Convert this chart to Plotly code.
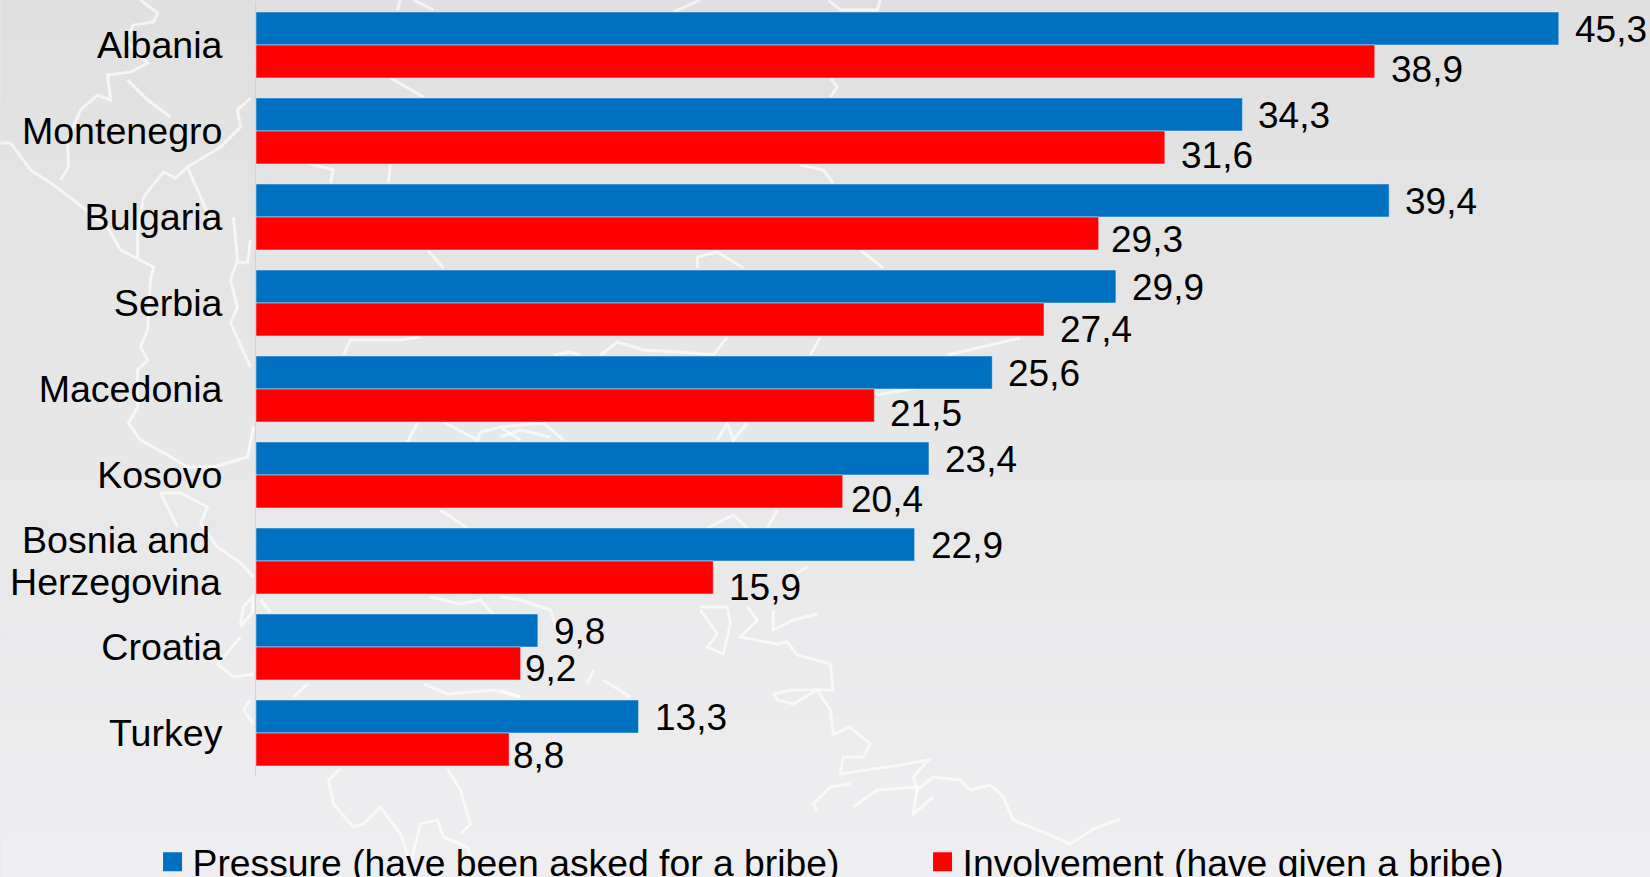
import plotly.graph_objects as go

countries = ["Albania", "Montenegro", "Bulgaria", "Serbia", "Macedonia", "Kosovo",
             "Bosnia and Herzegovina", "Croatia", "Turkey"]
tick_labels = ["Albania", "Montenegro", "Bulgaria", "Serbia", "Macedonia", "Kosovo",
               "", "Croatia", "Turkey"]
wrapped_label = ["Bosnia and", "Herzegovina"]
pressure = [45.3, 34.3, 39.4, 29.9, 25.6, 23.4, 22.9, 9.8, 13.3]
involvement = [38.9, 31.6, 29.3, 27.4, 21.5, 20.4, 15.9, 9.2, 8.8]
series_names = ["Pressure (have been asked for a bribe)", "Involvement (have given a bribe)"]

BLUE, RED = "#0070c0", "#ff0000"
FONT = "Liberation Sans, Arial, sans-serif"
W, H = 1650, 877
L, TOP, BOTTOM = 255.5, 2, 776

# pixel offsets of the data labels relative to the bar ends / bar centres
red_dx = [14, 14, 10, 14, 14, 6, 14, 2, 2]
red_dy = [8, 8, 6, 10, 8, 8, 10, 5, 6]

def px(x):
    return (x - L) / (W - L)

def py(y):
    return (BOTTOM - y) / (BOTTOM - TOP)

# faint map outline behind the chart
map_lines = [
    [(140,0),(157,13),(153,22),(133,25),(125,40),(147,63),(130,72),(107,75),(110,100),(97,95),(80,110),(67,140),(68,167),(60,180)],
    [(127,80),(147,100),(170,117)],
    [(0,143),(10,143),(30,170),(50,183),(73,200),(107,227),(120,250),(153,267),(150,280),(147,330),(140,347),(147,360),(137,370),(137,407),(128,423),(140,440),(167,455),(187,467),(213,467),(247,457),(253,427)],
    [(250,98),(237,110),(240,127),(220,147),(187,167),(200,197),(213,227)],
    [(187,167),(175,178),(163,172),(143,197),(137,233),(137,257)],
    [(233,217),(237,260),(230,280),(237,307),(230,323),(250,367)],
    [(250,240),(247,263),(237,262)],
    [(160,493),(177,527)],
    [(160,493),(180,493),(207,507),(200,523),(217,547),(240,563),(253,577)],
    [(240,624),(243,607),(252,597),(252,612),(240,627)],
    [(240,637),(217,664),(233,677),(253,674)],
    [(250,700),(243,710),(253,724)],
    [(340,769),(328,780),(333,804),(353,827),(363,824),(380,807),(400,834),(410,864),(420,824),(437,820),(443,837),(467,847),(473,864)],
    [(447,769),(460,790),(470,824),(460,834)],
    [(307,684),(293,697)], [(423,684),(447,694),(493,690),(520,697)],
    [(260,600),(270,612)], [(430,597),(460,604),(480,600),(493,614)],
    [(343,355),(350,340),(400,340),(420,337)],
    [(407,442),(417,423)], [(443,422),(477,440),(480,432),(500,427),(520,440)],
    [(440,510),(467,528)],
    [(553,355),(570,352),(580,355)], [(600,355),(617,342),(643,350),(680,352),(713,355),(727,337)],
    [(810,355),(820,337)], [(947,355),(1020,338)], [(875,395),(917,388)],
    [(500,427),(543,423),(563,440)], [(500,437),(520,430),(550,437)],
    [(717,440),(727,423),(733,440),(747,423)],
    [(707,528),(733,515),(747,528)], [(767,528),(777,510)], [(797,573),(807,567)],
    [(700,607),(727,607),(730,624),(723,654),(707,647),(717,634),(700,610)],
    [(747,607),(757,620),(740,637),(777,644),(787,642),(797,655),(830,664),(833,690),(817,690),(830,710),(833,734),(850,727),(870,744),(863,757),(843,757),(840,774),(867,770),(900,765),(928,760),(913,777),(917,790),(933,777),(960,780),(970,790),(990,785),(1003,797),(1013,820),(1050,835),(1070,844),(1093,829),(1120,819)],
    [(773,610),(773,630),(793,620),(817,614)],
    [(773,694),(777,700),(793,704),(817,690),(790,690),(773,694)],
    [(850,784),(830,787),(813,804),(817,812)],
    [(853,807),(877,790),(917,787),(913,814),(933,797)],
    [(593,670),(587,684)], [(603,680),(630,697)],
    [(500,597),(520,600),(550,610),(560,640)], [(500,690),(520,697)],
    [(673,12),(700,0)], [(828,0),(840,10),(877,10),(880,0)],
    [(830,78),(837,87),(830,97)], [(800,165),(823,170),(833,183)],
    [(697,268),(697,257),(717,252),(743,268)], [(860,250),(883,268)],
    [(390,78),(423,97)], [(307,163),(333,170),(330,183)], [(390,163),(388,182)],
    [(400,0),(397,10)], [(413,0),(433,10)], [(427,250),(443,268)],
]

fig = go.Figure()
fig.add_bar(y=countries, x=pressure, orientation="h", marker_color=BLUE, showlegend=False)
fig.add_bar(y=countries, x=involvement, orientation="h", marker_color=RED, showlegend=False)
for name, color in zip(series_names, [BLUE, RED]):
    fig.add_scatter(x=[None], y=[None], mode="markers", name=name,
                    marker=dict(symbol="square", size=16, color=color, line=dict(color=color, width=3)))

annotations = []
for i, c in enumerate(countries):
    annotations.append(dict(x=pressure[i], y=c, xref="x", yref="y", showarrow=False, xanchor="left",
                            text=f"{pressure[i]:.1f}".replace(".", ","), xshift=14, yshift=15.5))
    annotations.append(dict(x=involvement[i], y=c, xref="x", yref="y", showarrow=False, xanchor="left",
                            text=f"{involvement[i]:.1f}".replace(".", ","), xshift=red_dx[i], yshift=-16.5 - red_dy[i]))
# the two-line category label, with the reference's tighter line spacing, centred on one another
annotations.append(dict(x=0, y=countries[6], xref="x", yref="y", showarrow=False, xanchor="right",
                        text=wrapped_label[0], xshift=-44.5, yshift=21, font=dict(size=37.6)))
annotations.append(dict(x=0, y=countries[6], xref="x", yref="y", showarrow=False, xanchor="right",
                        text=wrapped_label[1], xshift=-33, yshift=-21, font=dict(size=37.6)))

shapes = []
STEPS = 44
for k in range(STEPS):
    t = k / (STEPS - 1)
    r, b = round(224 + 14 * t), round(224 + 16 * t)
    shapes.append(dict(type="rect", xref="paper", yref="paper", layer="below", line_width=0,
                       x0=px(0), x1=1, y0=py(H * k / STEPS), y1=py(H * (k + 1) / STEPS),
                       fillcolor=f"rgb({r},{r},{b})"))
for pts in map_lines:
    path = "M" + " L".join(f"{px(x):.5f},{py(y):.5f}" for x, y in pts)
    shapes.append(dict(type="path", xref="paper", yref="paper", layer="below", path=path,
                       line=dict(color="rgba(255,255,255,0.65)", width=3)))

fig.update_layout(
    width=W, height=H,
    margin=dict(l=L, r=0, t=TOP, b=H - BOTTOM, autoexpand=False),
    paper_bgcolor="#e8e8ea", plot_bgcolor="rgba(0,0,0,0)",
    barmode="group", bargap=0.233, bargroupgap=0,
    font=dict(family=FONT, size=37, color="#000000"),
    xaxis=dict(range=[0, (W - L) / 28.77], visible=False),
    yaxis=dict(range=[8.5, -0.5], tickmode="array", tickvals=countries, ticktext=tick_labels,
               tickfont=dict(size=37.6), showgrid=False, zeroline=False, showline=True,
               linecolor="#d2d2d2", linewidth=1, ticks="", ticklabelstandoff=25),
    legend=dict(orientation="h", x=px(152), y=py(831), xanchor="left", yanchor="top",
                bgcolor="rgba(0,0,0,0)", entrywidth=725, entrywidthmode="pixels", font=dict(size=37.3)),
    annotations=annotations, shapes=shapes,
)
fig.write_html("out.html", config=dict(displayModeBar=False),
               post_script="document.body.style.margin='0';document.documentElement.style.overflow='hidden';")
